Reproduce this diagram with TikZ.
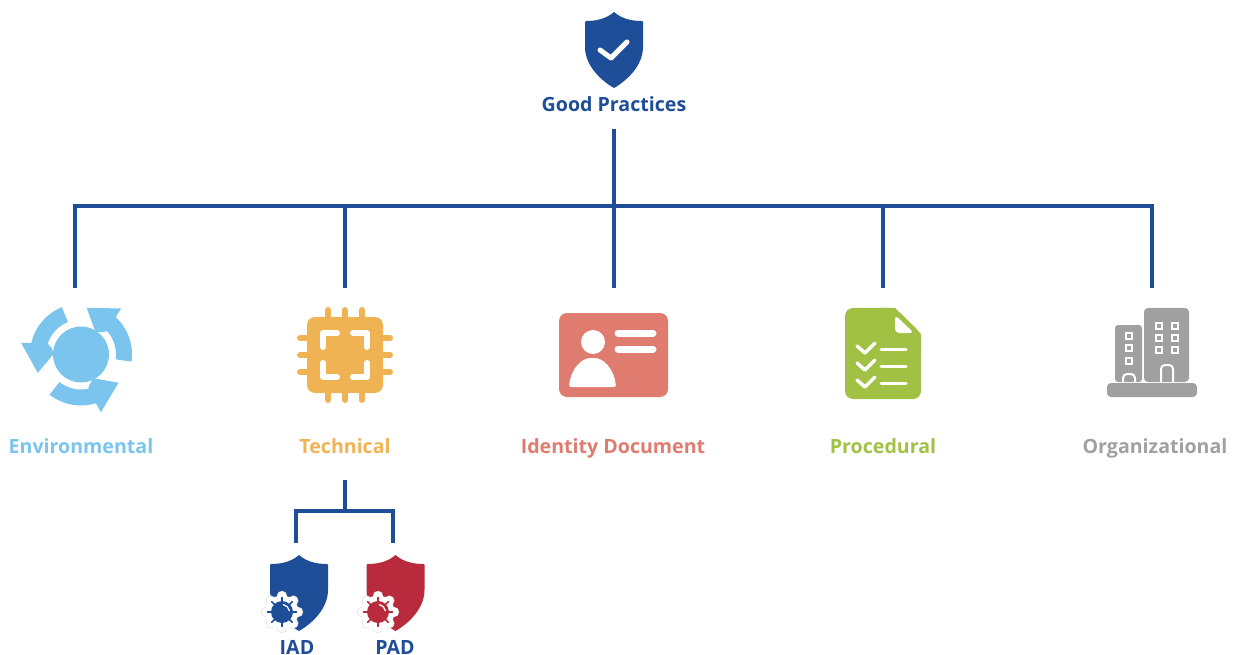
\documentclass[tikz,border=0pt]{standalone}
\usepackage{fontspec}
\setmainfont{Open Sans}
\usepackage{xcolor}
\usepackage{tikz}

\definecolor{navy}{HTML}{1F4E98}
\definecolor{sky}{HTML}{7AC4EE}
\definecolor{amber}{HTML}{F0B354}
\definecolor{salmon}{HTML}{E07B70}
\definecolor{leaf}{HTML}{A0C144}
\definecolor{stone}{HTML}{A0A0A0}
\definecolor{crimson}{HTML}{B92B3C}

\tikzset{
    link/.style={navy, line width=4pt},
    caption/.style={font=\fontsize{19.6}{22}\selectfont\bfseries, inner sep=0pt, text height=18pt, text depth=3pt, text=#1},
    pics/shieldshape/.style={code={
        \fill[#1] (0,-38) .. controls (-8,-31) and (-18,-29) .. (-28,-29) -- (-29,-28) -- (-29,-3)
            .. controls (-29,15) and (-14,30) .. (0,38)
            .. controls (14,30) and (29,15) .. (29,-3) -- (29,-28) -- (28,-29)
            .. controls (18,-29) and (8,-31) .. (0,-38) -- cycle;
    }},
    pics/bugmark/.style={code={
        \foreach \a in {0,45,...,315}{
            \fill[gray!25] (\a:16pt) circle (5.2pt);
        }
        \foreach \a in {0,45,...,315}{
            \fill[white] (\a:16pt) circle (4.5pt);
        }
        \fill[white] (0,0) circle (16.5pt);
        \foreach \a in {0,45,...,315}{
            \draw[#1, line width=1.6pt, line cap=round] (0,0) -- (\a:14.5pt);
        }
        \fill[#1] (0,0) circle (11pt);
        \draw[white, line width=1.3pt, line cap=round] (80:7.5pt) arc[start angle=80, end angle=10, radius=7.5pt];
    }}
}

\begin{document}
\begin{tikzpicture}[x=1pt, y=-1pt]
            \useasboundingbox (0,0) rectangle (1235,655);

            \pic at (614,50) {shieldshape=navy};
            \draw[white, line width=5pt, line cap=round, line join=round] (600,50) -- (611,58) -- (627,42);
            \node[caption=navy, minimum height=50pt] (good) at (614,104) {Good Practices};

            \coordinate (hub) at (614,206);
            \coordinate (envtop) at (75,288);
            \coordinate (techtop) at (345,288);
            \coordinate (idtop) at (614,288);
            \coordinate (proctop) at (883,288);
            \coordinate (orgtop) at (1152,288);
            \draw[link] (good.south) -- (hub);
            \foreach \n in {envtop,techtop,idtop,proctop,orgtop}{
                \draw[link] (hub) -| (\n);
            }

            \begin{scope}[shift={(81,354.5)}]
                \fill[sky] (0,0) circle (28pt);
                \foreach \a in {0,120,240}{
                    \fill[sky, rotate=\a] (-8:51pt) arc[start angle=-8, end angle=47, radius=51pt]
                        -- (49:61pt) -- (83:47pt) -- (58:27pt) -- (46:31pt) -- (42:35pt)
                        arc[start angle=42, end angle=-8, radius=35pt] -- cycle;
                }
            \end{scope}
            \node[caption=sky] (env) at (81,446) {Environmental};

            \foreach \p in {-17,0,17}{
                \draw[amber, line width=6pt, line cap=round] (345+\p,310) -- (345+\p,400);
                \draw[amber, line width=6pt, line cap=round] (300,355+\p) -- (390,355+\p);
            }
            \fill[amber, rounded corners=8pt] (307,317) rectangle (383,393);
            \draw[white, line width=6pt, line cap=round, line join=round] (323,347) -- (323,333) -- (337,333);
            \draw[white, line width=6pt, line cap=round, line join=round] (353,333) -- (367,333) -- (367,347);
            \draw[white, line width=6pt, line cap=round, line join=round] (367,363) -- (367,377) -- (353,377);
            \draw[white, line width=6pt, line cap=round, line join=round] (337,377) -- (323,377) -- (323,363);
            \node[caption=amber, minimum height=68pt] (tech) at (345,446) {Technical};

            \fill[salmon, rounded corners=8pt] (559,313) rectangle (668,397);
            \fill[white] (593,342) circle (12pt);
            \fill[white, rounded corners=2pt] (569,387) .. controls (571,368) and (582,358) .. (592.5,358)
                .. controls (603,358) and (614,368) .. (616,387) -- cycle;
            \foreach \y in {333,349}{
                \draw[white, line width=7pt, line cap=round] (618,\y) -- (653,\y);
            }
            \node[caption=salmon] (iddoc) at (613,446) {Identity Document};

            \fill[leaf, rounded corners=8pt] (845,399) -- (845,308) -- (895,308) -- (921,333) -- (921,399) -- cycle;
            \fill[leaf] (880,308) -- (895,308) -- (921,334) -- (921,350) -- (880,350) -- cycle;
            \fill[white, rounded corners=4pt] (895,315) -- (895,333) -- (914,333) -- cycle;
            \foreach \y in {348,365,382}{
                \draw[white, line width=3.5pt, line cap=round, line join=round] (857,\y-2) -- (865,\y+5) -- (875,\y-5);
                \draw[white, line width=3pt, line cap=round] (881,\y+1) -- (906,\y+1);
            }
            \node[caption=leaf] (proc) at (883,446) {Procedural};

            \fill[stone, rounded corners=3pt] (1115,382) -- (1115,325) -- (1142,325) -- (1142,382) -- cycle;
            \fill[stone, rounded corners=4pt] (1144,382) -- (1144,308) -- (1189,308) -- (1189,382) -- cycle;
            \fill[stone, rounded corners=4pt] (1107,383) rectangle (1197,397);
            \foreach \y in {336,348,361}{
                \draw[white, line width=2pt, fill=stone] (1126,\y-3) rectangle (1132,\y+3);
            }
            \foreach \x in {1159,1175}{
                \foreach \y in {326,338,350}{
                    \draw[white, line width=2pt, fill=stone] (\x-3,\y-3) rectangle (\x+3,\y+3);
                }
            }
            \draw[white, line width=2pt, rounded corners=4pt] (1161,382) -- (1161,365) -- (1173,365) -- (1173,382);
            \draw[white, line width=2pt, rounded corners=4pt] (1123,382) -- (1123,374) -- (1135,374) -- (1135,382);
            \node[caption=stone] (org) at (1155,446) {Organizational};

            \coordinate (subhub) at (345,511);
            \coordinate (iadtop) at (296,543);
            \coordinate (padtop) at (393,543);
            \draw[link] (tech.south) -- (subhub);
            \draw[link] (subhub) -| (iadtop);
            \draw[link] (subhub) -| (padtop);

            \pic at (299,593) {shieldshape=navy};
            \pic at (282,612) {bugmark=navy};
            \node[caption=navy, text height=15pt, text depth=0pt] (iad) at (297,646.5) {IAD};

            \pic at (395.5,593) {shieldshape=crimson};
            \pic at (378,612) {bugmark=crimson};
            \node[caption=navy, text height=15pt, text depth=0pt] (pad) at (395,646.5) {PAD};
        \end{tikzpicture}
\end{document}
